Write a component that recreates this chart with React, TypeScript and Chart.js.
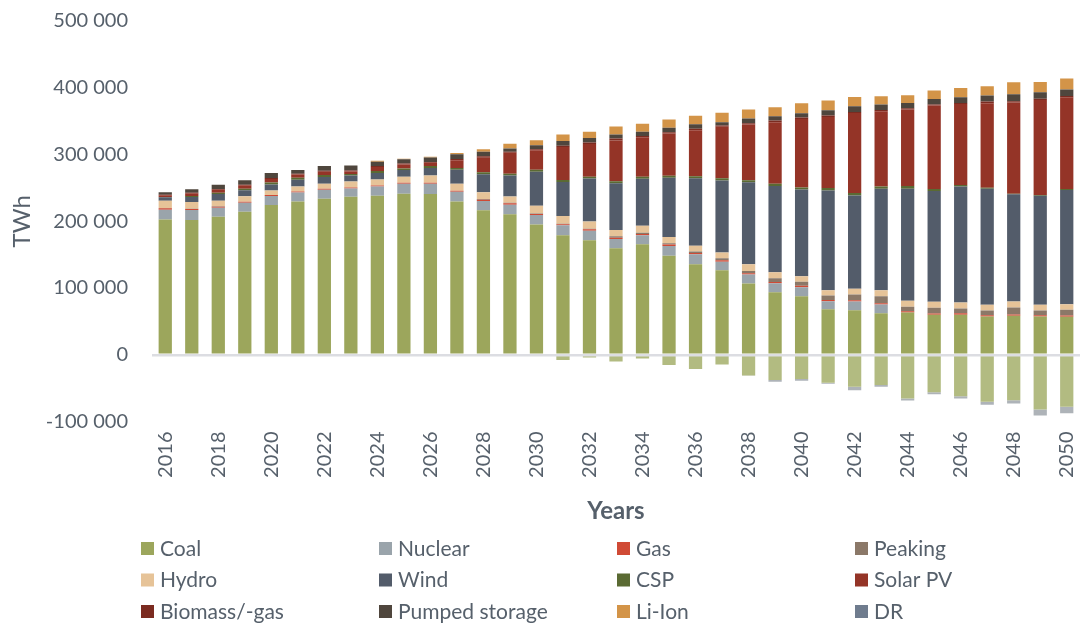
import React, { useEffect, useRef } from 'react';
import { Chart, registerables } from 'chart.js';

Chart.register(...registerables);

const years = ['2016', '2017', '2018', '2019', '2020', '2021', '2022', '2023', '2024', '2025', '2026', '2027', '2028', '2029', '2030', '2031', '2032', '2033', '2034', '2035', '2036', '2037', '2038', '2039', '2040', '2041', '2042', '2043', '2044', '2045', '2046', '2047', '2048', '2049', '2050'];

const coal = [202800, 202000, 206800, 214300, 224300, 229700, 233700, 236700, 238200, 241200, 240700, 229700, 216300, 210300, 195300, 178900, 171400, 159500, 165400, 148500, 135500, 126600, 106600, 93700, 87700, 68300, 66800, 62300, 63300, 59800, 59800, 57300, 58300, 57300, 56800];
const nuclear = [14500, 14800, 13500, 13500, 13400, 13500, 13500, 12500, 14000, 15000, 15500, 14500, 14000, 14500, 14000, 15000, 14500, 13900, 13500, 14500, 15000, 12900, 13500, 13400, 13500, 11900, 12900, 12900, 0, 0, 0, 0, 0, 0, 0];
const gas = [2000, 1500, 1500, 1500, 1500, 1500, 1500, 1500, 1500, 1500, 1500, 1500, 2000, 2000, 1700, 1500, 2000, 2000, 2000, 2000, 2000, 2000, 2000, 2000, 2000, 2000, 2000, 2000, 2000, 2000, 2500, 2000, 2000, 2000, 2000];
const peaking = [500, 500, 500, 0, 0, 0, 0, 0, 0, 0, 0, 0, 1000, 1000, 500, 1000, 1000, 2000, 2000, 2000, 2000, 3000, 3500, 5500, 6000, 6500, 8500, 10500, 6500, 8500, 7000, 7000, 10500, 7000, 8500];
const hydro = [11000, 10000, 8500, 8000, 7000, 7500, 7500, 9000, 8900, 9000, 10900, 10500, 10000, 9400, 11800, 11500, 10900, 9500, 10500, 9400, 8900, 8500, 9900, 9000, 8400, 8000, 8500, 9000, 9000, 9000, 9000, 8500, 9000, 8500, 8500];
const wind = [5000, 7500, 10000, 9000, 9000, 10000, 10000, 9000, 9500, 10000, 11000, 21000, 27000, 31400, 50800, 50800, 64300, 70200, 70200, 88700, 101200, 108100, 123100, 129100, 130100, 149500, 140000, 152000, 167900, 165900, 173900, 173900, 160500, 163400, 170900];
const csp = [500, 1500, 2000, 2500, 3000, 3000, 3000, 2000, 3000, 2500, 3000, 2500, 3000, 2500, 3000, 3000, 2500, 3000, 3000, 3000, 3000, 3500, 3000, 3500, 3000, 3500, 3500, 3500, 4000, 3000, 2000, 1500, 1000, 1000, 1500];
const solarPV = [2500, 4000, 4500, 5000, 5000, 5000, 5000, 4000, 6000, 6000, 5000, 11500, 22000, 31400, 29400, 49400, 49300, 60900, 59300, 63300, 68800, 76800, 83200, 92100, 102600, 106600, 120100, 112600, 114600, 125100, 121600, 126600, 136500, 142500, 137500];
const biomass = [1000, 1000, 1000, 1000, 1500, 1000, 1500, 1500, 1500, 1500, 1000, 2000, 2000, 1500, 1500, 2000, 2000, 3000, 2000, 2000, 2000, 2000, 2000, 2500, 2000, 2000, 1500, 2000, 2000, 1500, 1500, 2500, 2000, 2000, 2000];
const pumped = [3500, 5000, 6500, 6500, 7500, 5500, 7000, 7500, 6500, 6000, 7000, 7000, 7000, 5000, 6000, 7000, 7000, 6000, 6000, 6500, 7000, 5000, 7000, 6500, 6500, 8000, 8500, 8000, 8000, 8500, 8500, 9000, 10500, 9500, 9500];
const liIon = [0, 0, 0, 0, 0, 0, 0, 0, 1500, 1000, 1000, 2000, 3500, 7000, 7500, 10000, 9000, 12000, 12000, 12500, 12500, 14000, 13500, 13500, 15000, 14500, 14000, 12500, 11500, 12500, 14000, 14000, 18000, 15500, 16500];
const dr = [0, 0, 0, 0, 0, 0, 0, 0, 0, 0, 0, 0, 0, 0, 0, 0, 0, 0, 0, 0, 0, 0, 0, 0, 0, 0, 0, 0, 0, 0, 0, 0, 0, 0, 0];

// negative contributions (not in legend)
const coalNegative = [0, 0, 0, 0, 0, 0, 0, 0, 0, 0, 0, 0, -1000, -1500, 0, -8000, -4000, -10000, -5500, -15500, -21500, -14500, -31000, -38000, -36500, -42000, -48000, -45500, -65500, -56000, -62000, -70500, -68000, -82000, -78000];
const otherNegative = [0, 0, 0, 0, 0, 0, 0, 0, 0, 0, 0, 0, 0, 0, 0, 0, 0, 0, 0, 0, 0, 0, -500, -2500, -2500, -1500, -5000, -2500, -3000, -3000, -3500, -4500, -5000, -9000, -9500];

const seriesNames = ['Coal', 'Nuclear', 'Gas', 'Peaking', 'Hydro', 'Wind', 'CSP', 'Solar PV', 'Biomass/-gas', 'Pumped storage', 'Li-Ion', 'DR'];
const seriesValues = [coal, nuclear, gas, peaking, hydro, wind, csp, solarPV, biomass, pumped, liIon, dr];
const seriesColors = ['#9CA65C', '#9AA4AB', '#D04A35', '#8B7868', '#E6C398', '#535C6A', '#5A6A33', '#943427', '#7B2B20', '#4F463D', '#D39448', '#6F7C8E'];

const yTicks = [-100000, 0, 100000, 200000, 300000, 400000, 500000];

const TEXT = '#56606b';
const FONT = 'Lato';

const fmt = (v: number) => String(v).replace(/\B(?=(\d{3})+(?!\d))/g, ' ');

const gridLegend = {
  id: 'gridLegend',
  afterDraw(chart: any) {
    const ctx = chart.ctx;
    ctx.save();
    ctx.font = `21px ${FONT}`;
    ctx.textBaseline = 'middle';
    ctx.textAlign = 'left';
    seriesNames.forEach((name, i) => {
      const col = i % 4;
      const row = Math.floor(i / 4);
      const x = 141 + col * 238;
      const y = 542 + row * 31.5;
      ctx.fillStyle = seriesColors[i];
      ctx.fillRect(x, y, 13, 13);
      ctx.fillStyle = TEXT;
      ctx.fillText(name, x + 19, y + 7);
    });
    ctx.restore();
  },
};

export default function App() {
  const ref = useRef<HTMLCanvasElement | null>(null);

  useEffect(() => {
    if (!ref.current) return;
    Chart.defaults.font.family = FONT;
    const datasets: any[] = seriesNames.map((name, i) => ({
      label: name,
      data: seriesValues[i],
      backgroundColor: seriesColors[i],
      borderWidth: 0,
      barPercentage: 0.5,
      categoryPercentage: 1,
    }));
    datasets.push({
      label: 'Coal (negative)',
      data: coalNegative,
      backgroundColor: '#B2BB81',
      borderWidth: 0,
      barPercentage: 0.5,
      categoryPercentage: 1,
    });
    datasets.push({
      label: 'Other (negative)',
      data: otherNegative,
      backgroundColor: '#AEB3B8',
      borderWidth: 0,
      barPercentage: 0.5,
      categoryPercentage: 1,
    });

    const chart = new Chart(ref.current, {
      type: 'bar',
      data: { labels: years, datasets },
      options: {
        responsive: false,
        animation: false,
        layout: { padding: { top: 21, right: 0, left: 0, bottom: 96 } },
        plugins: { legend: { display: false }, tooltip: { enabled: false } },
        scales: {
          x: {
            stacked: true,
            grid: { display: false, drawTicks: false },
            border: { display: false },
            ticks: {
              autoSkip: false,
              minRotation: 90,
              maxRotation: 90,
              padding: 10,
              color: TEXT,
              font: { size: 20, family: FONT },
              callback: (_v: any, i: number) => (i % 2 === 0 ? years[i] : ''),
            },
            title: {
              display: true,
              text: 'Years',
              color: TEXT,
              font: { size: 24, weight: 'bold', family: FONT },
              padding: { top: 0, bottom: 3 },
            },
            afterFit: (s: any) => {
              s.height = 107.5;
              s.paddingLeft = 0;
              s.paddingRight = 0;
            },
          },
          y: {
            stacked: true,
            min: yTicks[0],
            max: yTicks[yTicks.length - 1],
            ticks: {
              stepSize: 100000,
              padding: 24,
              color: TEXT,
              font: { size: 20, family: FONT },
              callback: (v: any) => fmt(Number(v)),
            },
            grid: {
              drawTicks: false,
              z: 1,
              lineWidth: 2.5,
              color: (c: any) => (c.tick && c.tick.value === 0 ? '#dcdde2' : 'rgba(0,0,0,0)'),
            },
            border: { display: false },
            title: {
              display: true,
              text: 'TWh',
              color: TEXT,
              font: { size: 24, family: FONT },
              padding: { top: 8, bottom: 0 },
            },
            afterFit: (s: any) => {
              s.width = 152;
              s.paddingTop = 0;
              s.paddingBottom = 0;
            },
          },
        },
      },
      plugins: [gridLegend],
    });
    return () => chart.destroy();
  }, []);

  return (
    <div style={{ position: 'absolute', left: 0, top: 0, width: 1080, height: 625, background: '#fff' }}>
      <canvas ref={ref} width={1080} height={625} style={{ width: 1080, height: 625 }} />
    </div>
  );
}
